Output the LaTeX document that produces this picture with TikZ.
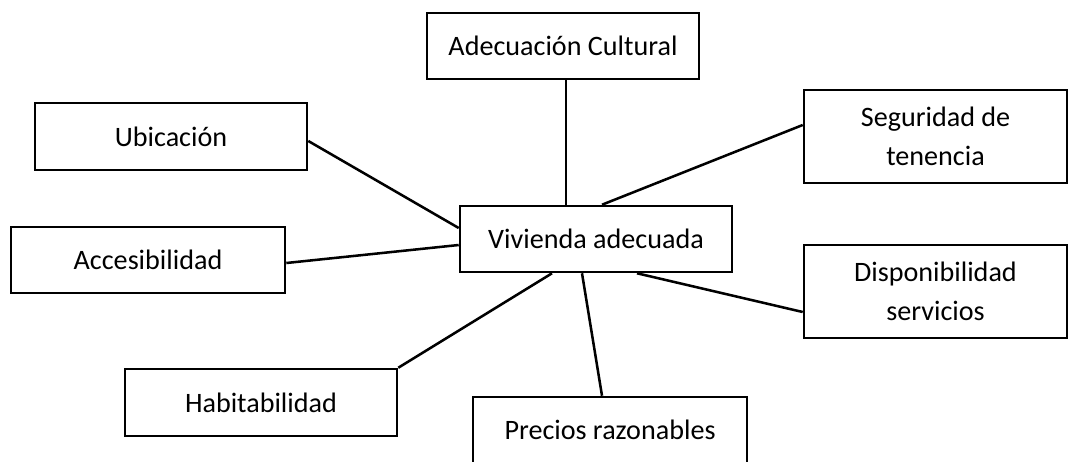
\documentclass[tikz,border=0pt]{standalone}
\usepackage{fontspec}
\setmainfont{Carlito}
\usetikzlibrary{calc}

\tikzstyle{caja} = [rectangle, draw=black, line width=1.8pt, text centered, align=center, inner sep=0pt, font=\fontsize{20pt}{27.5pt}\selectfont]
\tikzstyle{enlace} = [line width=1.8pt]

\begin{document}
\begin{tikzpicture}[x=0.025cm, y=-0.025cm]
    \useasboundingbox (0,0) rectangle (1070,461);

    \node (viv)  [caja, minimum width=6.8cm, minimum height=1.65cm] at (596,239) {Vivienda adecuada};
    \node (adec) [caja, minimum width=6.8cm, minimum height=1.65cm] at (563,46) {Adecuación Cultural};
    \node (ubic) [caja, minimum width=6.8cm, minimum height=1.675cm] at (171,136.5) {Ubicación};
    \node (segu) [caja, minimum width=6.575cm, minimum height=2.325cm] at (935.5,136.5) {Seguridad de\\tenencia};
    \node (acce) [caja, minimum width=6.85cm, minimum height=1.65cm] at (148,260) {Accesibilidad};
    \node (disp) [caja, minimum width=6.575cm, minimum height=2.325cm] at (935.5,291.5) {Disponibilidad\\servicios};
    \node (habi) [caja, minimum width=6.8cm, minimum height=1.675cm] at (261,402.5) {Habitabilidad};
    \node (prec) [caja, minimum width=6.85cm, minimum height=1.65cm] at (610,430) {Precios razonables};

    \draw [enlace] ($(adec.south)+(3,0)$) -- ($(viv.north)+(-30,0)$);
    \draw [enlace] ($(ubic.east)+(0,4.5)$) -- ($(viv.west)+(0,-11)$);
    \draw [enlace] ($(segu.west)+(0,-11.5)$) -- ($(viv.north)+(6,0)$);
    \draw [enlace] ($(acce.east)+(0,3)$) -- ($(viv.west)+(0,6)$);
    \draw [enlace] ($(disp.west)+(0,20.5)$) -- ($(viv.south)+(41,0)$);
    \draw [enlace] (habi.north east) -- ($(viv.south)+(-44,0)$);
    \draw [enlace] ($(prec.north)+(-8,0)$) -- ($(viv.south)+(-14,0)$);
\end{tikzpicture}
\end{document}
